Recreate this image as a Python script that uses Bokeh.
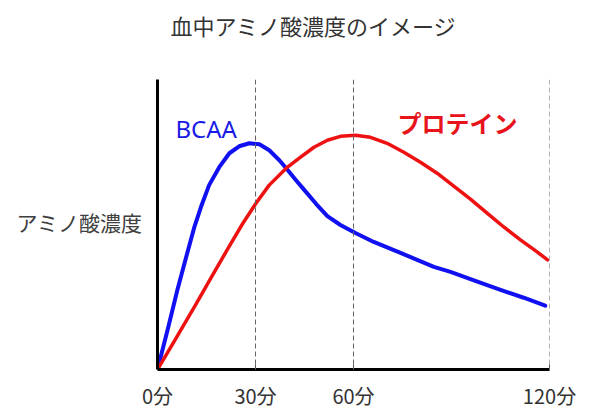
from bokeh.plotting import figure
from bokeh.models import Range1d, FixedTicker, Label, Span
from bokeh.embed import file_html
from bokeh.resources import INLINE

# ---- data ----
title_text = "血中アミノ酸濃度のイメージ"
y_label_text = "アミノ酸濃度"
y_label_pos = 148
x_ticks = [0, 30, 60, 120]
x_tick_labels = ["0分", "30分", "60分", "120分"]
dash_ticks = [30, 60, 120]

bcaa_name = "BCAA"
bcaa_t = [0, 3.1, 6.1, 9.2, 11.2, 13.3, 15.8, 18.9, 22, 25, 28.1, 31.2, 34.2, 37.3,
          39.4, 42.4, 45.5, 48.6, 52, 56, 60.6, 66.2, 74.4, 84.6, 89.7, 97.3, 105,
          112.1, 118.7]
bcaa_v = [0, 40, 80, 118, 142, 163, 185, 203, 217, 224, 227, 226, 220, 210,
          202, 190, 178, 166, 154, 145, 137, 128, 117, 103, 98, 89, 80,
          72, 64]

protein_name = "プロテイン"
protein_t = [0, 5.6, 11.7, 16.9, 21.5, 26, 30.2, 34.2, 39.4, 43.8, 47.9, 52, 56,
             60.6, 65.2, 70.3, 75.4, 80.5, 85.6, 90.7, 95.8, 100.9, 106, 111.1,
             116.2, 119.4]
protein_v = [0, 31, 65, 95, 121, 146, 167, 185, 202, 213, 223, 230, 234,
             235, 233, 227, 218, 208, 197, 184, 171, 157, 143, 130,
             118, 110]

JP = "Noto Sans CJK JP"

p = figure(width=590, height=419, output_backend="svg", toolbar_location=None,
           x_range=Range1d(0, 120), y_range=Range1d(0, 291),
           min_border_left=157, min_border_right=41,
           min_border_top=78, min_border_bottom=50)
p.background_fill_color = "white"
p.border_fill_color = "white"
p.outline_line_color = None
p.xgrid.visible = False
p.ygrid.visible = False

# title (an empty second line lifts it away from the plot area)
p.title.text = title_text + "\n "
p.title.text_font = JP
p.title.text_font_size = "22px"
p.title.text_font_style = "normal"
p.title.text_color = "#333333"
p.title.align = "left"
p.title.offset = 13
p.title.standoff = 13

# x axis
xa = p.xaxis[0]
xa.ticker = FixedTicker(ticks=x_ticks)
xa.major_label_overrides = {t: l for t, l in zip(x_ticks, x_tick_labels)}
xa.axis_line_width = 3
xa.axis_line_color = "black"
xa.major_tick_in = 5
xa.major_tick_out = 0
xa.major_tick_line_color = "#555555"
xa.minor_tick_line_color = None
xa.major_label_text_font = JP
xa.major_label_text_font_size = "20px"
xa.major_label_text_color = "#333333"
xa.major_label_standoff = 11

# y axis (its only "tick label" is the axis caption, written horizontally)
ya = p.yaxis[0]
ya.ticker = FixedTicker(ticks=[y_label_pos])
ya.major_label_overrides = {y_label_pos: y_label_text}
ya.axis_line_width = 3
ya.axis_line_color = "black"
ya.major_tick_line_color = None
ya.major_tick_in = 0
ya.major_tick_out = 0
ya.minor_tick_line_color = None
ya.major_label_text_font = JP
ya.major_label_text_font_size = "21px"
ya.major_label_text_color = "#404040"
ya.major_label_standoff = 15

# dashed guide lines
for t in dash_ticks:
    p.add_layout(Span(location=t, dimension="height", line_color="#666666",
                      line_width=1, line_dash="5 3"))

# curves
p.line(bcaa_t, bcaa_v, line_color="#1010f0", line_width=4, line_join="round", line_cap="round")
p.line(protein_t, protein_v, line_color="#ee1111", line_width=3.5, line_join="round", line_cap="round")

# series labels
p.add_layout(Label(x=5.5, y=242, text=bcaa_name, text_font="Noto Sans", text_font_size="24px",
                   text_color="#1a1ae6", text_align="left", text_baseline="middle"))
p.add_layout(Label(x=73.5, y=248, text=protein_name, text_font=JP, text_font_size="24px",
                   text_font_style="bold", text_color="#e8141c", text_align="left",
                   text_baseline="middle"))

open("out.html", "w").write(file_html(p, INLINE))
